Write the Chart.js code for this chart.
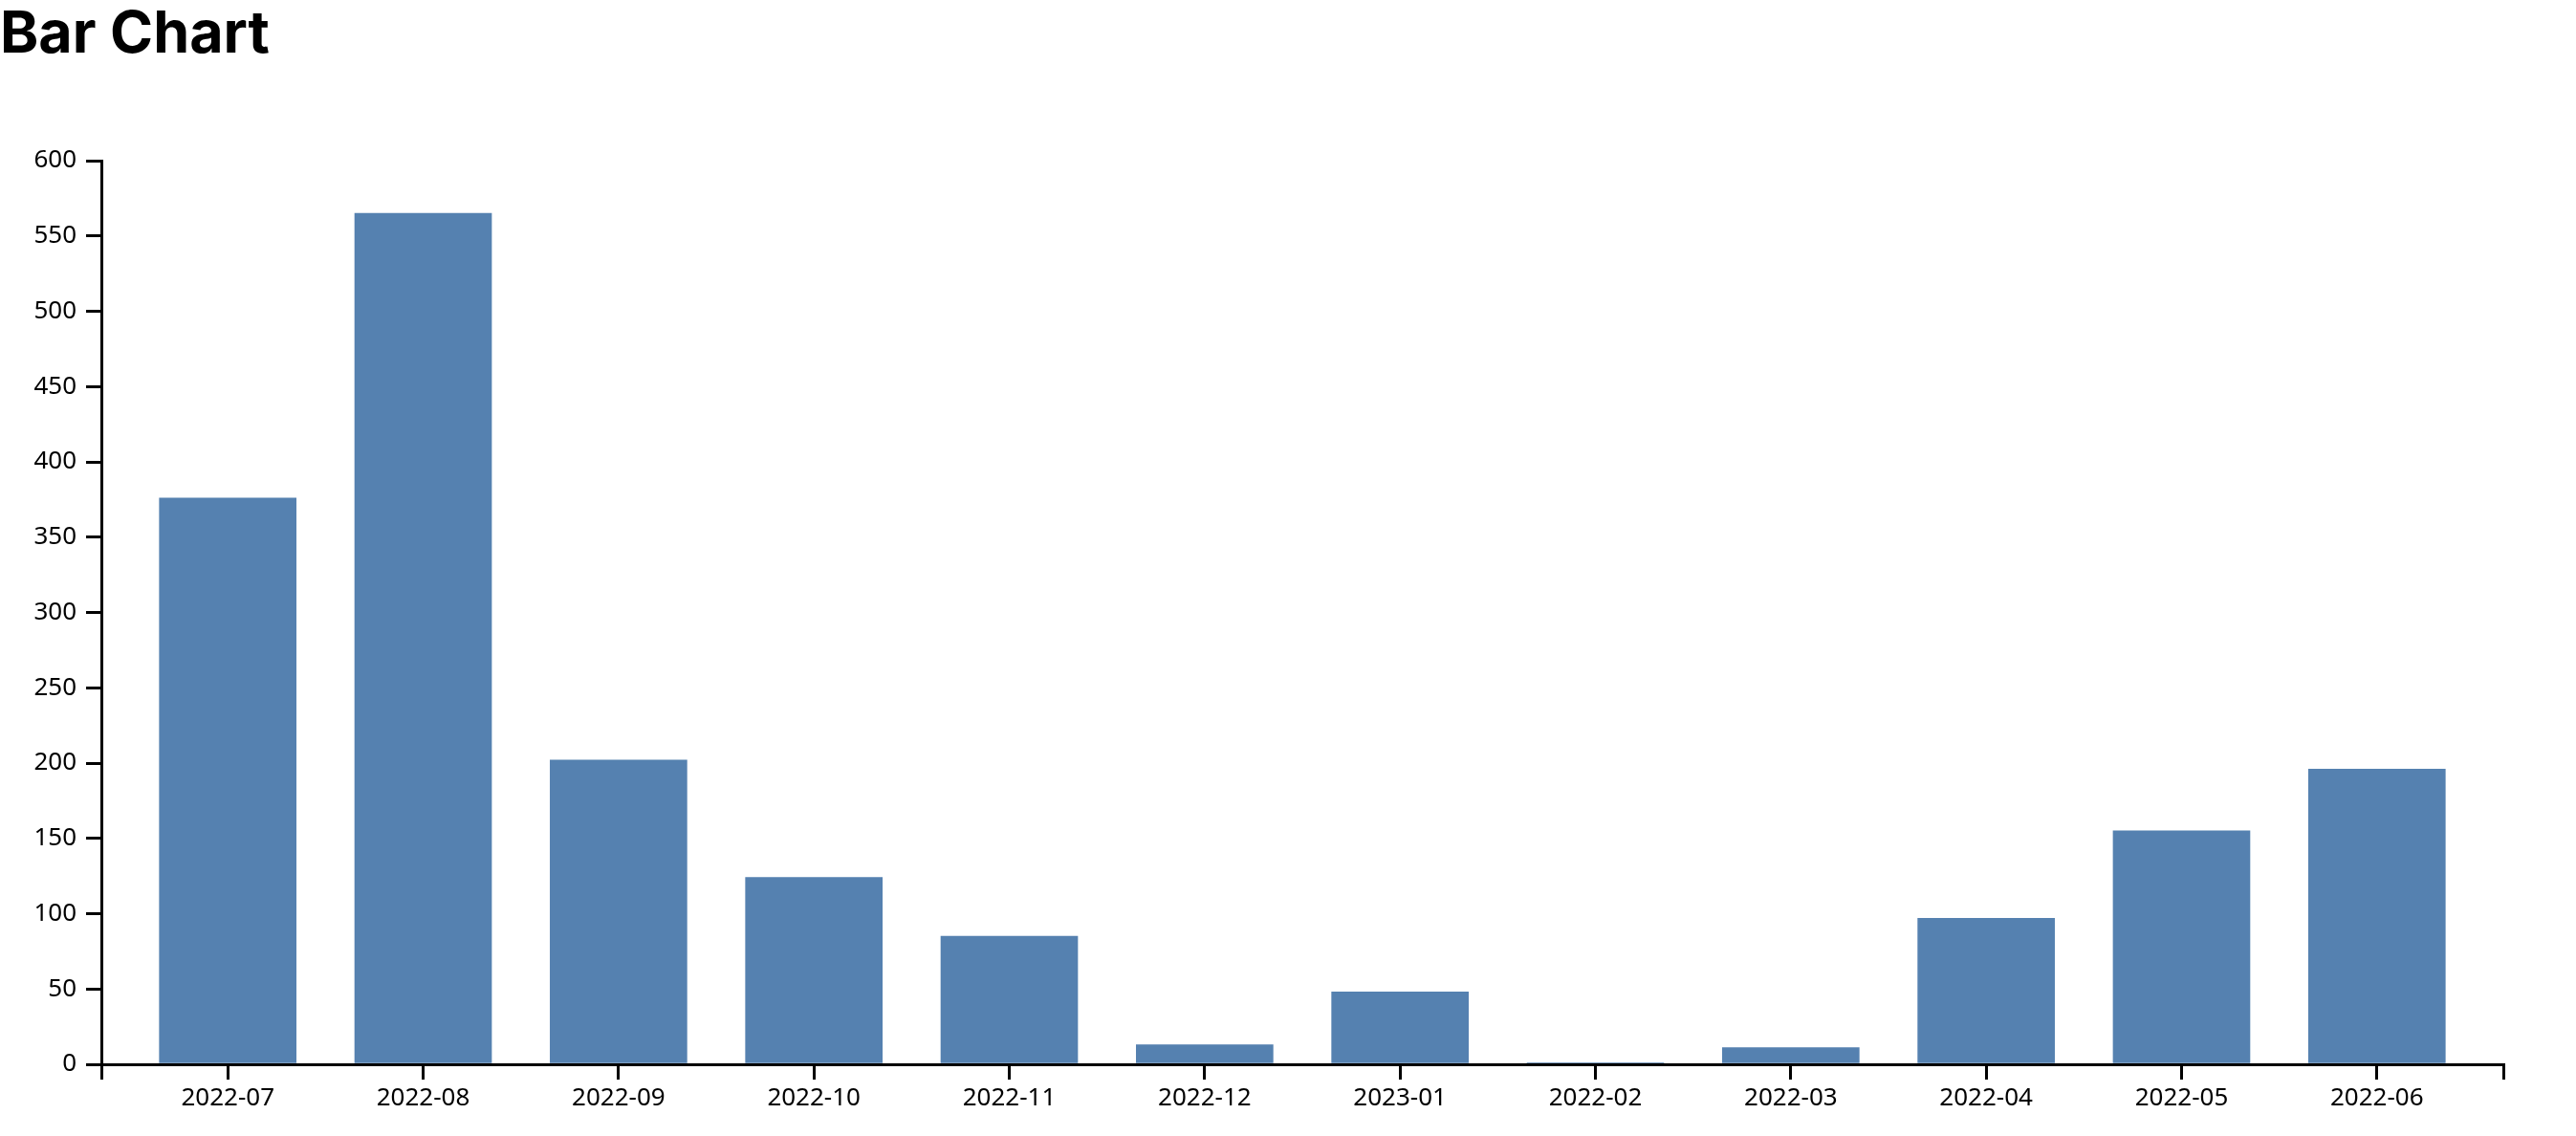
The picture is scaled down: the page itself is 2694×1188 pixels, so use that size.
<!DOCTYPE html>
<html>
<head>
<meta charset="utf-8">
<script src="https://cdn.jsdelivr.net/npm/chart.js@4"></script>
<style>
  body { margin: 0; background: #fff; }
  #wrap { position: relative; width: 2694px; height: 1188px; }
  h1 {
    position: absolute; left: 0; top: 3px; margin: 0;
    font: bold 61px Inter, sans-serif; line-height: 1; color: #000;
  }
</style>
</head>
<body>
<div id="wrap">
  <h1>Bar Chart</h1>
  <canvas id="bar-chart"></canvas>
</div>
<script>
// data
var months = ["2022-07", "2022-08", "2022-09", "2022-10", "2022-11", "2022-12",
  "2023-01", "2022-02", "2022-03", "2022-04", "2022-05", "2022-06"];
var counts = [376, 565, 202, 124, 85, 13, 48, 1, 11, 97, 155, 196];
var yTicks = [0, 50, 100, 150, 200, 250, 300, 350, 400, 450, 500, 550, 600];

var pad = 0.647; // half band + outer padding, in category units
var xMin = -pad;
var xMax = months.length - 1 + pad;

var points = counts.map(function (v, i) { return { x: i, y: v }; });

var tickFont = { family: "'Noto Sans', sans-serif", size: 26 };

var ctx = document.getElementById("bar-chart").getContext('2d');
var chart = new Chart(ctx, {
  type: 'bar',
  data: {
    datasets: [{
      data: points,
      backgroundColor: "#5581b0",
      borderWidth: 0,
      barThickness: 143
    }]
  },
  options: {
    responsive: true,
    maintainAspectRatio: false,
    animation: false,
    layout: { padding: { top: 168, right: 76, left: 0, bottom: 0 } },
    plugins: {
      legend: { display: false },
      tooltip: { enabled: false }
    },
    scales: {
      x: {
        type: 'linear',
        offset: false,
        min: xMin,
        max: xMax,
        afterBuildTicks: function (scale) {
          var t = [{ value: xMin }];
          months.forEach(function (m, i) { t.push({ value: i }); });
          t.push({ value: xMax });
          scale.ticks = t;
        },
        afterFit: function (scale) { scale.height = 75; },
        ticks: {
          autoSkip: false,
          maxRotation: 0,
          padding: 4,
          color: "#000",
          font: tickFont,
          callback: function (value) {
            return Number.isInteger(value) ? months[value] : '';
          }
        },
        grid: {
          offset: false,
          drawOnChartArea: false,
          drawTicks: true,
          tickLength: 16,
          color: "#000",
          tickColor: "#000",
          lineWidth: 3
        },
        border: { color: "#000", width: 3 }
      },
      y: {
        min: 0,
        max: 600,
        afterBuildTicks: function (scale) {
          scale.ticks = yTicks.map(function (v) { return { value: v }; });
        },
        afterFit: function (scale) { scale.width = 106; },
        ticks: {
          padding: 10,
          color: "#000",
          font: tickFont
        },
        grid: {
          drawOnChartArea: false,
          drawTicks: true,
          tickLength: 16,
          color: "#000",
          tickColor: "#000",
          lineWidth: 3
        },
        border: { color: "#000", width: 3 }
      }
    }
  }
});
</script>
</body>
</html>
